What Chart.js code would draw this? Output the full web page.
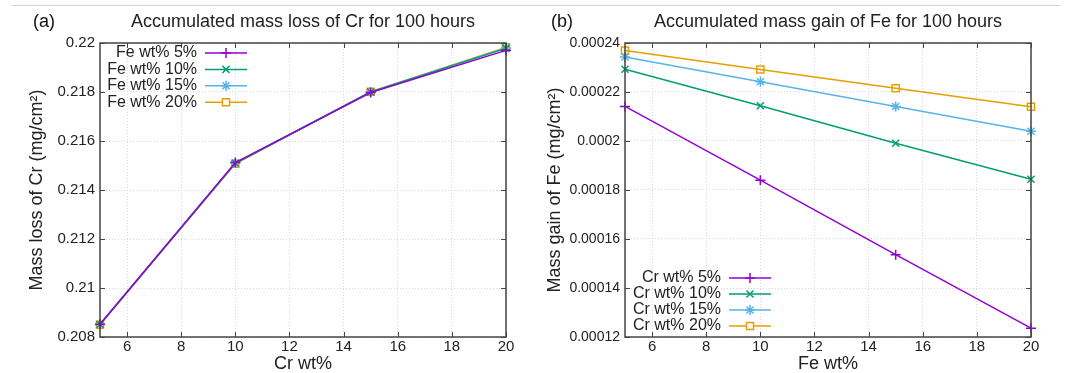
<!DOCTYPE html>
<html>
<head>
<meta charset="utf-8">
<script src="https://cdn.jsdelivr.net/npm/chart.js@4"></script>
<style>
    html, body { margin: 0; padding: 0; background: #fff; }
    #page { position: relative; width: 1071px; height: 373px; overflow: hidden; }
    #rule { position: absolute; left: 12px; top: 5px; width: 1048px; height: 1px; background: #d4d4d4; }
    #cv-loss { position: absolute; left: 0; top: 0; }
    #cv-gain { position: absolute; left: 535px; top: 0; }
</style>
</head>
<body>
<div id="page">
    <div id="rule"></div>
    <canvas id="cv-loss" width="535" height="373"></canvas>
    <canvas id="cv-gain" width="536" height="373"></canvas>
</div>
<script>
// 共用 x 軸
const xValues = [5, 10, 15, 20];
const xTicks = [6, 8, 10, 12, 14, 16, 18, 20];

// (a) Cr 質量損失
const lossLabels = ['Fe wt% 5%', 'Fe wt% 10%', 'Fe wt% 15%', 'Fe wt% 20%'];
const lossFe5 = [0.20852, 0.21512, 0.21798, 0.21970];
const lossFe10 = [0.20852, 0.21509, 0.21800, 0.21978];
const lossFe15 = [0.20851, 0.21510, 0.21800, 0.21980];
const lossFe20 = [0.20850, 0.21507, 0.21801, 0.21982];
const lossYTicks = [0.208, 0.21, 0.212, 0.214, 0.216, 0.218, 0.22];

// (b) Fe 質量增加
const gainLabels = ['Cr wt% 5%', 'Cr wt% 10%', 'Cr wt% 15%', 'Cr wt% 20%'];
const gainCr5 = [0.0002141, 0.0001840, 0.0001536, 0.0001236];
const gainCr10 = [0.0002293, 0.0002144, 0.0001991, 0.0001844];
const gainCr15 = [0.0002343, 0.0002242, 0.0002141, 0.0002040];
const gainCr20 = [0.0002369, 0.0002292, 0.0002215, 0.0002140];
const gainYTicks = [0.00012, 0.00014, 0.00016, 0.00018, 0.0002, 0.00022, 0.00024];

const COLORS = ['#9400D3', '#009E73', '#56B4E9', '#E69F00'];
const MARKERS = ['cross', 'crossRot', 'star', 'rect'];
const FONT = "'Liberation Sans', Arial, sans-serif";
const FRAME = '#444';

/**
 * 外框、刻度、標題、圖例
 */
const panelDeco = {
    id: 'panelDeco',
    afterDraw(chart, args, opts) {
        const { ctx, chartArea: a } = chart;
        ctx.save();

        // 內向刻度
        ctx.strokeStyle = FRAME;
        ctx.lineWidth = 1;
        const xs = chart.scales.x, ys = chart.scales.y;
        xs.ticks.forEach(t => {
            const px = Math.round(xs.getPixelForValue(t.value)) + 0.5;
            ctx.beginPath();
            ctx.moveTo(px, a.bottom); ctx.lineTo(px, a.bottom - 5);
            ctx.moveTo(px, a.top); ctx.lineTo(px, a.top + 5);
            ctx.stroke();
        });
        ys.ticks.forEach(t => {
            const py = Math.round(ys.getPixelForValue(t.value)) + 0.5;
            ctx.beginPath();
            ctx.moveTo(a.left, py); ctx.lineTo(a.left + 5, py);
            ctx.moveTo(a.right, py); ctx.lineTo(a.right - 5, py);
            ctx.stroke();
        });

        // 外框
        ctx.lineWidth = 1.5;
        ctx.strokeRect(a.left, a.top, a.right - a.left, a.bottom - a.top);

        // 標題
        ctx.fillStyle = '#111';
        ctx.font = '18px ' + FONT;
        ctx.textBaseline = 'middle';
        ctx.textAlign = 'left';
        ctx.fillText(opts.tag, opts.tagX, 22);
        ctx.fillStyle = '#222';
        ctx.textAlign = 'center';
        ctx.fillText(opts.title, (a.left + a.right) / 2, 22);

        // 圖例
        ctx.font = '16px ' + FONT;
        ctx.textAlign = 'right';
        chart.data.datasets.forEach((ds, i) => {
            const y = opts.legendY + i * opts.legendStep;
            ctx.fillStyle = '#222';
            ctx.fillText(ds.label, opts.legendX, y);
            ctx.strokeStyle = ds.borderColor;
            ctx.lineWidth = 1.5;
            ctx.beginPath();
            ctx.moveTo(opts.legendX + 8, y);
            ctx.lineTo(opts.legendX + 50, y);
            ctx.stroke();
            ctx.fillStyle = '#fff';
            Chart.helpers.drawPoint(ctx, {
                pointStyle: ds.pointStyle,
                radius: ds.pointRadius,
                rotation: 0,
                borderWidth: 1.5
            }, opts.legendX + 29, y);
        });
        ctx.restore();
    }
};

function buildDatasets(labels, series) {
    return series.map((vals, i) => ({
        label: labels[i],
        data: xValues.map((x, k) => ({ x: x, y: vals[k] })),
        borderColor: COLORS[i],
        backgroundColor: 'rgba(0,0,0,0)',
        borderWidth: 1.5,
        pointStyle: MARKERS[i],
        pointRadius: 5,
        pointBorderWidth: 1.5,
        pointBorderColor: COLORS[i],
        pointBackgroundColor: 'rgba(0,0,0,0)',
        clip: false
    }));
}

function makeChart(id, cfg) {
    const canvas = document.getElementById(id);
    return new Chart(canvas, {
        type: 'line',
        data: { datasets: buildDatasets(cfg.labels, cfg.series) },
        options: {
            responsive: false,
            animation: false,
            layout: { padding: { top: 43, left: 0, bottom: 0, right: canvas.width - cfg.areaRight } },
            plugins: {
                legend: { display: false },
                tooltip: { enabled: false },
                panelDeco: cfg.deco
            },
            scales: {
                x: {
                    type: 'linear',
                    min: 5,
                    max: 20,
                    afterBuildTicks: s => { s.ticks = xTicks.map(v => ({ value: v })); },
                    afterFit: s => { s.height = 36; },
                    grid: { color: '#d8d8d8', lineWidth: 1, drawTicks: false },
                    border: { display: false, dash: [1, 2] },
                    ticks: { autoSkip: false, maxRotation: 0, padding: 1, color: '#222', font: { family: FONT, size: 15 } },
                    title: { display: true, text: cfg.xTitle, color: '#222', font: { family: FONT, size: 18 }, padding: { top: 0, bottom: -2 } }
                },
                y: {
                    min: cfg.yTicks[0],
                    max: cfg.yTicks[cfg.yTicks.length - 1],
                    afterBuildTicks: s => { s.ticks = cfg.yTicks.map(v => ({ value: v })); },
                    afterFit: s => { s.width = cfg.areaLeft; },
                    grid: { color: '#d8d8d8', lineWidth: 1, drawTicks: false },
                    border: { display: false, dash: [1, 2] },
                    ticks: {
                        autoSkip: false,
                        padding: 5,
                        color: '#222',
                        font: { family: FONT, size: cfg.tickSize },
                        callback: v => String(v)
                    },
                    title: { display: true, text: cfg.yTitle, color: '#222', font: { family: FONT, size: 18 }, padding: { top: cfg.yTitlePad, bottom: 0 } }
                }
            }
        },
        plugins: [panelDeco]
    });
}

makeChart('cv-loss', {
    labels: lossLabels,
    series: [lossFe5, lossFe10, lossFe15, lossFe20],
    yTicks: lossYTicks,
    areaLeft: 100,
    areaRight: 506,
    tickSize: 15,
    yTitlePad: 26,
    xTitle: 'Cr wt%',
    yTitle: 'Mass loss of Cr (mg/cm²)',
    deco: {
        tag: '(a)', tagX: 33,
        title: 'Accumulated mass loss of Cr for 100 hours',
        legendX: 197, legendY: 53, legendStep: 16.4
    }
});

makeChart('cv-gain', {
    labels: gainLabels,
    series: [gainCr5, gainCr10, gainCr15, gainCr20],
    yTicks: gainYTicks,
    areaLeft: 90,
    areaRight: 496,
    tickSize: 14,
    yTitlePad: 9,
    xTitle: 'Fe wt%',
    yTitle: 'Mass gain of Fe (mg/cm²)',
    deco: {
        tag: '(b)', tagX: 16,
        title: 'Accumulated mass gain of Fe for 100 hours',
        legendX: 186, legendY: 278, legendStep: 16
    }
});
</script>
</body>
</html>
